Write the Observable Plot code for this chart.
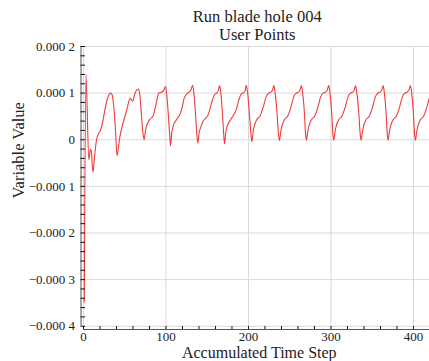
<!DOCTYPE html>
<html>
<head>
<meta charset="utf-8">
<script src="https://cdn.jsdelivr.net/npm/d3@7"></script>
<script src="https://cdn.jsdelivr.net/npm/@observablehq/plot@0.6"></script>
<style>
  html, body { margin: 0; padding: 0; background: #fff; }
  svg { display: block; }
  svg text { font-family: 'Liberation Serif', 'Times New Roman', serif; }
</style>
</head>
<body>
<div id="chart"></div>
<script>
// Chart texts
const titleLine1 = "Run blade hole 004";
const titleLine2 = "User Points";
const xLabel = "Accumulated Time Step";
const yLabel = "Variable Value";

// Series: accumulated time step
const steps = [
  1, 3, 6.5, 8.5, 9.5, 11.5, 13.5, 15.8, 18, 20.5, 23, 26.7, 29, 30.7, 33, 35, 36.5, 38.8, 40.6, 42, 44, 48, 53, 55.5, 57, 59.5, 62, 64, 66.5, 68, 70, 72, 73.5,
  75, 76.4, 80.4, 84.4, 87.3, 91.3, 95.4, 97.5, 99.4, 101, 103, 104.5, 105.5,
  107, 108.7, 112.7, 117.6, 120, 121.6, 124, 126.4, 129, 130.5, 132.3, 133.8, 135.8, 137.5, 138.6,
  140.2, 141.8, 144.5, 147.9, 151, 153, 156, 159, 162, 163.5, 165, 166.5, 168.5, 170, 171,
  172.5, 174.2, 178.3, 182.3, 185.1, 188.4, 191.6, 194.4, 196, 197.4, 199, 201, 203, 204.1,
  205.6, 207, 210, 214, 218, 221.5, 224.3, 227.1, 229.3, 230.8, 232.3, 234.5, 236.4, 237.6,
  239.1, 240.5, 243.6, 247.6, 251.6, 255, 257.8, 260.6, 262.6, 264.2, 265.7, 267.7, 269.2, 270.3,
  271.8, 273.2, 276.3, 280.3, 284.3, 287.7, 290.5, 293.3, 295.6, 297.3, 298.8, 300.8, 302.3, 303.4,
  304.9, 306.3, 309.4, 313.4, 317.4, 320.8, 323.6, 326.4, 328.2, 329.8, 331.4, 333.6, 335.4, 336.6,
  338.1, 339.5, 342.6, 346.6, 350.6, 354, 356.8, 359.6, 361.6, 363.2, 364.7, 366.7, 368.2, 369.3,
  370.8, 372.2, 375.3, 379.3, 383.3, 386.7, 389.5, 392.3, 394.6, 396.3, 397.8, 399.8, 401.3, 402.4,
  403.9, 405.3, 408.4, 412.4, 416.4, 419.5
];

// Series: variable value, in units of 1e-4
const valuesE4 = [
  -3.48, 1.39, -0.43, -0.2, -0.25, -0.70, -0.35, 0, 0.12, 0.2, 0.36, 0.71, 0.88, 0.96, 1.0, 0.95, 0.75, 0.2, -0.34, -0.2, 0.05, 0.36, 0.68, 0.85, 0.89, 0.82, 0.97, 1.05, 1.09, 1.0, 0.6, 0.15, 0.0,
  0.18, 0.29, 0.44, 0.51, 0.71, 1.0, 1.03, 1.07, 1.14, 0.95, 0.5, 0.1, -0.13,
  0.15, 0.29, 0.43, 0.57, 0.72, 0.86, 0.96, 1.0, 1.04, 1.08, 1.17, 1.0, 0.55, 0.1, -0.07,
  0.15, 0.25, 0.38, 0.46, 0.53, 0.64, 0.84, 0.97, 1.01, 1.06, 1.16, 1.0, 0.55, 0.1, -0.09,
  0.17, 0.29, 0.43, 0.54, 0.64, 0.86, 0.99, 1.01, 1.06, 1.17, 1.0, 0.58, 0.12, -0.04,
  0.17, 0.29, 0.43, 0.51, 0.71, 0.93, 1.0, 1.02, 1.07, 1.17, 1.0, 0.6, 0.12, -0.02,
  0.17, 0.29, 0.43, 0.51, 0.71, 0.93, 1.0, 1.02, 1.07, 1.16, 1.0, 0.6, 0.12, -0.01,
  0.17, 0.29, 0.43, 0.51, 0.71, 0.93, 1.0, 1.02, 1.07, 1.17, 1.0, 0.6, 0.12, -0.01,
  0.17, 0.29, 0.43, 0.51, 0.71, 0.93, 1.0, 1.02, 1.07, 1.16, 1.0, 0.6, 0.12, -0.01,
  0.17, 0.29, 0.43, 0.51, 0.71, 0.93, 1.0, 1.02, 1.07, 1.16, 1.0, 0.6, 0.12, -0.01,
  0.17, 0.29, 0.43, 0.51, 0.71, 0.93, 1.0, 1.02, 1.07, 1.16, 1.0, 0.6, 0.12, -0.01,
  0.17, 0.29, 0.43, 0.51, 0.71, 0.91
];

// Tick values
const xTicks = [0, 100, 200, 300, 400];
const xMinorTicks = [0, 20, 40, 60, 80, 100, 120, 140, 160, 180, 200, 220, 240, 260, 280, 300, 320, 340, 360, 380, 400];
const yTicks = [-0.0004, -0.0003, -0.0002, -0.0001, 0, 0.0001, 0.0002];
const yMinorTicks = d3.range(-20, 11).map(k => k * 2e-5);

const data = steps.map((t, i) => ({t, v: valuesE4[i] * 1e-4}));

// Layout
const W = 429, H = 361;
const mL = 80.5, mR = 0, mT = 46, mB = 32;
const frameW = W - mL - mR, frameH = H - mT - mB;
const xLo = -3, xHi = 419.4;
const yLo = -0.000407, yHi = 0.0002;
const font = "'Liberation Serif', 'Times New Roman', serif";

function fmtY(d) {
  if (Math.abs(d) < 1e-12) return "0";
  const s = Math.abs(d).toFixed(4);
  return (d < 0 ? "\u2212" : "") + s.slice(0, 5) + " " + s.slice(5);
}

const chart = Plot.plot({
  width: W,
  height: H,
  marginLeft: mL,
  marginRight: mR,
  marginTop: mT,
  marginBottom: mB,
  style: {fontFamily: font, fontSize: "13px", color: "#222", background: "#fff"},
  x: {domain: [xLo, xHi], axis: null},
  y: {domain: [yLo, yHi], axis: null},
  marks: [
    Plot.gridX(xTicks, {stroke: "#d9d9d9", strokeOpacity: 1}),
    Plot.gridY(yTicks, {stroke: "#d9d9d9", strokeOpacity: 1}),
    Plot.line(data, {x: "t", y: "v", stroke: "#ee3b3b", strokeWidth: 1.1, curve: "monotone-x", clip: true}),
    // axis lines
    Plot.ruleX([xLo], {y1: yTicks[0], y2: yTicks[yTicks.length - 1], stroke: "#555", strokeWidth: 1}),
    Plot.ruleY([yLo], {x1: 0, x2: xHi, stroke: "#555", strokeWidth: 1}),
    // inward ticks
    Plot.tickY(yMinorTicks, {y: d => d, insetRight: frameW - 4.5, stroke: "#111", strokeWidth: 1}),
    Plot.tickX(xMinorTicks, {x: d => d, insetTop: frameH - 3, stroke: "#111", strokeWidth: 1}),
    // tick labels
    Plot.text(yTicks, {y: d => d, text: fmtY, frameAnchor: "left", textAnchor: "end", dx: -6, lineAnchor: "middle", fontSize: 13, fontFamily: font, fill: "#222"}),
    Plot.text(xTicks, {x: d => d, text: d => String(d), frameAnchor: "bottom", lineAnchor: "top", dy: 2, fontSize: 13, fontFamily: font, fill: "#222"}),
    // titles
    Plot.text([titleLine1], {frameAnchor: "top", dx: 2, dy: -30, lineAnchor: "middle", fontSize: 16.5, fontFamily: font, fill: "#222"}),
    Plot.text([titleLine2], {frameAnchor: "top", dx: 2, dy: -11.5, lineAnchor: "middle", fontSize: 16.5, fontFamily: font, fill: "#222"}),
    // axis labels
    Plot.text([xLabel], {frameAnchor: "bottom", dx: 4, dy: 23.5, lineAnchor: "middle", fontSize: 16, fontFamily: font, fill: "#222"}),
    Plot.text([yLabel], {frameAnchor: "left", dx: -62.5, dy: 10.5, rotate: -90, lineAnchor: "middle", fontSize: 16.5, fontFamily: font, fill: "#222"})
  ]
});

document.getElementById("chart").appendChild(chart);
</script>
</body>
</html>
